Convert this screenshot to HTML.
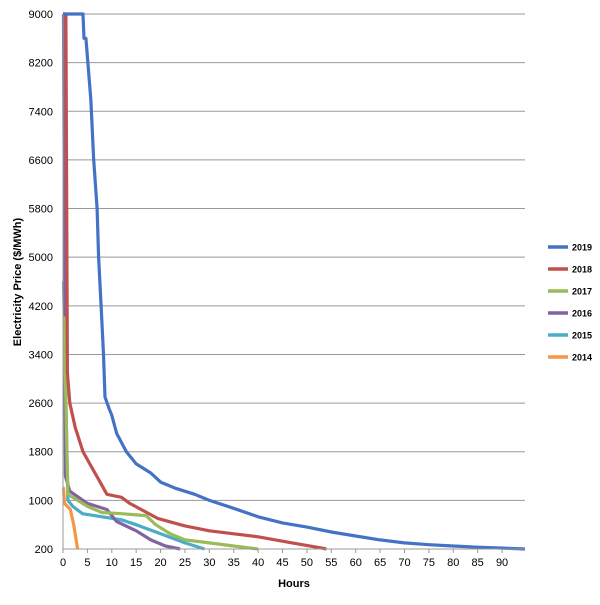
<!DOCTYPE html>
<html><head><meta charset="utf-8"><style>
body{margin:0;background:#fff;font-family:"Liberation Sans",sans-serif}
svg text{font-family:"Liberation Sans",sans-serif}
</style></head><body>
<svg id="chart" width="600" height="600" viewBox="0 0 600 600" xmlns="http://www.w3.org/2000/svg">
<g id="grid"></g><g id="series"></g><g id="axes"></g><g id="legend"></g>
<text x="294" y="587" font-size="11" font-weight="bold" text-anchor="middle">Hours</text>
<text transform="translate(21,282) rotate(-90)" font-size="11" font-weight="bold" text-anchor="middle">Electricity Price ($/MWh)</text>
</svg>
<script>
const yTicks=[200,1000,1800,2600,3400,4200,5000,5800,6600,7400,8200,9000];
const xTicks=[0,5,10,15,20,25,30,35,40,45,50,55,60,65,70,75,80,85,90];
const seriesNames=["2019","2018","2017","2016","2015","2014"];
const colors=["#4472c4","#c0504d","#9bbb59","#8064a2","#4bacc6","#f79646"];
const h2019=[0,4.1,4.3,4.7,5.7,6.3,7,7.3,7.8,8.3,8.6,9.5,10,11,13,15,18,20,23,27,30,35,40,45,50,55,60,65,70,75,80,85,90,94.7];
const p2019=[9000,9000,8600,8600,7600,6600,5800,5000,4200,3400,2700,2500,2400,2100,1800,1600,1450,1300,1200,1100,1000,870,730,630,560,480,414,350,300,270,250,230,215,200];
const h2018=[0,0.6,0.9,1.4,2.5,4.1,5.5,7.6,9,12,13.7,19.5,25,30,35,40,47,52,54];
const p2018=[9000,9000,3100,2600,2200,1800,1600,1300,1100,1050,950,700,580,500,450,400,300,230,200];
const h2017=[0,0.2,1,5,8,12,17,19,22,25,30,35,40];
const p2017=[4000,4000,1100,900,800,780,750,600,450,350,300,250,200];
const h2016=[0,0.1,0.5,1.4,5,9,11,15,18,21,24];
const p2016=[9000,9000,1400,1150,950,850,650,500,350,250,200];
const h2015=[0,0.1,1,2,4,8,12,15,20,25,29];
const p2015=[4600,4600,1000,900,780,730,680,600,450,300,200];
const h2014=[0,0.1,0.3,1.5,2.2,3];
const p2014=[1200,1200,950,850,600,200];
const allH=[h2019,h2018,h2017,h2016,h2015,h2014];
const allP=[p2019,p2018,p2017,p2016,p2015,p2014];
const X0=63,X1=525,XMAX=94.7,Y0=549,Y1=14;
const xs=h=>X0+h/XMAX*(X1-X0);
const ys=v=>Y0-(v-200)/(9000-200)*(Y0-Y1);
const NS="http://www.w3.org/2000/svg";
function mk(t,a,p){const e=document.createElementNS(NS,t);for(const k in a)e.setAttribute(k,a[k]);p.appendChild(e);return e;}
const grid=document.getElementById('grid'),axes=document.getElementById('axes'),ser=document.getElementById('series'),leg=document.getElementById('legend');
yTicks.forEach(v=>{const l=mk('line',{x1:X0,x2:X1,y1:ys(v),y2:ys(v),stroke:'#999','stroke-width':1},grid);

const t=mk('text',{x:53,y:ys(v)+4,'font-size':11,'text-anchor':'end'},axes);t.textContent=v;
});
const ax=mk('line',{x1:X0,x2:X0,y1:Y1,y2:Y0,stroke:'#999'},axes);

const bx=mk('line',{x1:X0,x2:X1,y1:Y0,y2:Y0,stroke:'#999'},axes);

xTicks.forEach(h=>{mk('line',{x1:xs(h),x2:xs(h),y1:Y0,y2:Y0+4,stroke:'#999'},axes);
const t=mk('text',{x:xs(h),y:566,'font-size':11,'text-anchor':'middle'},axes);t.textContent=h;
});
for(let i=allH.length-1;i>=0;i--){const pts=allH[i].map((h,j)=>xs(h).toFixed(1)+','+ys(allP[i][j]).toFixed(1)).join(' ');
const pl=mk('polyline',{points:pts,fill:'none',stroke:colors[i],'stroke-width':3.2,'stroke-linejoin':'round'},ser);
}
seriesNames.forEach((n,i)=>{const y=247+i*22;
const l=mk('line',{x1:548,x2:568,y1:y,y2:y,stroke:colors[i],'stroke-width':3.5},leg);

const t=mk('text',{x:572,y:y+3.5,'font-size':9,'font-weight':'bold'},leg);t.textContent=n;
});
</script>
</body></html>
